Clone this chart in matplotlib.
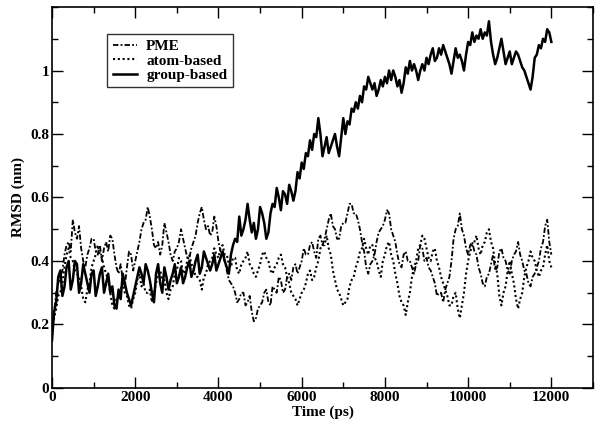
import matplotlib
matplotlib.use("Agg")
import matplotlib.pyplot as plt
from matplotlib.ticker import MultipleLocator, FixedLocator, FuncFormatter

time_ps = list(range(0, 12001, 100))
time_mid_ps = list(range(50, 12000, 100))

group_based = [
    0.15, 0.27, 0.37, 0.32, 0.40, 0.34, 0.39, 0.33, 0.36, 0.30,
    0.37, 0.32, 0.38, 0.33, 0.30, 0.26, 0.31, 0.36, 0.30, 0.26,
    0.32, 0.38, 0.33, 0.37, 0.30, 0.36, 0.33, 0.38, 0.31, 0.36,
    0.33, 0.38, 0.35, 0.40, 0.37, 0.42, 0.38, 0.41, 0.37, 0.42,
    0.39, 0.43, 0.38, 0.42, 0.47, 0.54, 0.50, 0.58, 0.49, 0.47,
    0.57, 0.52, 0.49, 0.58, 0.63, 0.56, 0.61, 0.64, 0.59, 0.68,
    0.71, 0.74, 0.78, 0.80, 0.85, 0.73, 0.79, 0.76, 0.80, 0.73,
    0.85, 0.84, 0.88, 0.90, 0.92, 0.95, 0.98, 0.94, 0.92, 0.97,
    0.98, 1.00, 1.00, 0.95, 0.93, 1.01, 1.03, 1.02, 0.97, 1.02,
    1.04, 1.05, 1.03, 1.07, 1.08, 1.04, 0.99, 1.07, 1.05, 1.00,
    1.09, 1.12, 1.11, 1.13, 1.12, 1.155, 1.05, 1.04, 1.10, 1.02,
    1.06, 1.04, 1.05, 1.01, 0.98, 0.94, 1.04, 1.08, 1.10, 1.13,
    1.09,
]

group_based_mid = [
    0.24, 0.35, 0.29, 0.38, 0.31, 0.40, 0.30, 0.39, 0.33, 0.36,
    0.29, 0.36, 0.30, 0.36, 0.32, 0.25, 0.28, 0.33, 0.28, 0.29,
    0.35, 0.36, 0.39, 0.34, 0.27, 0.39, 0.30, 0.35, 0.34, 0.39,
    0.35, 0.33, 0.38, 0.35, 0.40, 0.36, 0.43, 0.39, 0.39, 0.37,
    0.41, 0.40, 0.36, 0.45, 0.46, 0.48, 0.53, 0.53, 0.52, 0.50,
    0.55, 0.47, 0.55, 0.57, 0.60, 0.62, 0.58, 0.62, 0.62, 0.66,
    0.69, 0.73, 0.75, 0.79, 0.80, 0.76, 0.74, 0.78, 0.76, 0.79,
    0.80, 0.83, 0.87, 0.88, 0.90, 0.94, 0.96, 0.96, 0.94, 0.95,
    0.96, 0.97, 0.98, 0.97, 0.96, 0.99, 1.00, 1.00, 1.00, 1.00,
    1.02, 1.07, 1.04, 1.05, 1.06, 1.02, 1.03, 1.04, 1.03, 1.05,
    1.08, 1.09, 1.10, 1.10, 1.11, 1.09, 1.02, 1.07, 1.06, 1.04,
    1.02, 1.06, 1.03, 1.00, 0.96, 0.98, 1.05, 1.07, 1.09, 1.12,
]

pme = [
    0.18, 0.30, 0.35, 0.42, 0.46, 0.53, 0.47, 0.44, 0.38, 0.44,
    0.47, 0.42, 0.40, 0.46, 0.48, 0.42, 0.36, 0.34, 0.38, 0.42,
    0.40, 0.46, 0.52, 0.57, 0.50, 0.44, 0.42, 0.52, 0.46, 0.40,
    0.44, 0.50, 0.44, 0.41, 0.46, 0.52, 0.57, 0.50, 0.48, 0.54,
    0.46, 0.42, 0.37, 0.33, 0.30, 0.28, 0.30, 0.27, 0.24, 0.22,
    0.26, 0.30, 0.27, 0.32, 0.30, 0.34, 0.31, 0.36, 0.38, 0.36,
    0.40, 0.42, 0.45, 0.43, 0.47, 0.45, 0.50, 0.55, 0.50, 0.47,
    0.52, 0.55, 0.58, 0.55, 0.50, 0.43, 0.36, 0.40, 0.46, 0.50,
    0.53, 0.55, 0.48, 0.42, 0.38, 0.43, 0.40, 0.36, 0.40, 0.44,
    0.41, 0.37, 0.33, 0.30, 0.27, 0.33, 0.40, 0.50, 0.55, 0.48,
    0.42, 0.46, 0.42, 0.36, 0.32, 0.36, 0.42, 0.38, 0.44, 0.40,
    0.36, 0.42, 0.46, 0.40, 0.36, 0.32, 0.36, 0.40, 0.46, 0.53,
    0.42,
]

pme_mid = [
    0.24, 0.33, 0.37, 0.45, 0.43, 0.49, 0.51, 0.40, 0.42, 0.47,
    0.43, 0.45, 0.44, 0.43, 0.47, 0.38, 0.39, 0.32, 0.43, 0.37,
    0.43, 0.50, 0.53, 0.54, 0.45, 0.46, 0.45, 0.49, 0.42, 0.43,
    0.46, 0.47, 0.41, 0.44, 0.48, 0.55, 0.53, 0.51, 0.49, 0.51,
    0.43, 0.40, 0.34, 0.32, 0.27, 0.30, 0.26, 0.29, 0.21, 0.25,
    0.27, 0.31, 0.26, 0.31, 0.35, 0.30, 0.35, 0.34, 0.39, 0.38,
    0.44, 0.42, 0.46, 0.41, 0.48, 0.47, 0.53, 0.51, 0.47, 0.51,
    0.52, 0.58, 0.55, 0.53, 0.46, 0.38, 0.39, 0.42, 0.49, 0.51,
    0.56, 0.50, 0.46, 0.39, 0.42, 0.40, 0.38, 0.39, 0.45, 0.40,
    0.38, 0.35, 0.29, 0.30, 0.31, 0.35, 0.47, 0.51, 0.50, 0.44,
    0.45, 0.43, 0.38, 0.33, 0.35, 0.39, 0.37, 0.43, 0.41, 0.37,
    0.40, 0.43, 0.42, 0.37, 0.33, 0.35, 0.38, 0.44, 0.51, 0.46,
]

atom_based = [
    0.20, 0.25, 0.30, 0.38, 0.44, 0.40, 0.36, 0.32, 0.27, 0.33,
    0.40, 0.45, 0.41, 0.36, 0.30, 0.25, 0.28, 0.33, 0.29, 0.25,
    0.30, 0.36, 0.33, 0.30, 0.27, 0.33, 0.37, 0.34, 0.28, 0.32,
    0.37, 0.40, 0.37, 0.42, 0.38, 0.35, 0.31, 0.36, 0.40, 0.44,
    0.41, 0.45, 0.42, 0.38, 0.41, 0.36, 0.40, 0.43, 0.38, 0.35,
    0.39, 0.43, 0.40, 0.36, 0.39, 0.42, 0.38, 0.33, 0.29, 0.26,
    0.30, 0.33, 0.37, 0.35, 0.40, 0.45, 0.48, 0.42, 0.34, 0.30,
    0.26, 0.28, 0.34, 0.38, 0.43, 0.47, 0.42, 0.45, 0.40, 0.35,
    0.42, 0.46, 0.40, 0.33, 0.27, 0.23, 0.30, 0.38, 0.44, 0.48,
    0.44, 0.40, 0.44, 0.38, 0.33, 0.29, 0.26, 0.30, 0.22, 0.30,
    0.40, 0.45, 0.48, 0.42, 0.46, 0.50, 0.44, 0.36, 0.26, 0.32,
    0.40, 0.33, 0.25, 0.30, 0.38, 0.43, 0.40, 0.35, 0.38, 0.45,
    0.38,
]

atom_based_mid = [
    0.22, 0.29, 0.33, 0.42, 0.41, 0.37, 0.35, 0.28, 0.31, 0.38,
    0.42, 0.42, 0.38, 0.34, 0.26, 0.28, 0.31, 0.30, 0.26, 0.28,
    0.34, 0.32, 0.30, 0.31, 0.30, 0.36, 0.34, 0.30, 0.31, 0.36,
    0.41, 0.36, 0.40, 0.39, 0.35, 0.34, 0.35, 0.39, 0.41, 0.42,
    0.44, 0.42, 0.39, 0.41, 0.37, 0.39, 0.41, 0.39, 0.36, 0.37,
    0.42, 0.41, 0.37, 0.38, 0.41, 0.39, 0.35, 0.30, 0.28, 0.28,
    0.31, 0.36, 0.34, 0.38, 0.44, 0.45, 0.44, 0.37, 0.31, 0.28,
    0.27, 0.32, 0.35, 0.40, 0.44, 0.44, 0.45, 0.41, 0.37, 0.40,
    0.45, 0.42, 0.36, 0.29, 0.26, 0.27, 0.35, 0.40, 0.45, 0.47,
    0.41, 0.43, 0.40, 0.35, 0.31, 0.26, 0.29, 0.25, 0.26, 0.36,
    0.43, 0.46, 0.44, 0.45, 0.49, 0.46, 0.39, 0.29, 0.30, 0.37,
    0.36, 0.28, 0.28, 0.35, 0.40, 0.41, 0.37, 0.37, 0.42, 0.40,
]

x_label = "Time (ps)"
y_label = "RMSD (nm)"
legend_labels = ["PME", "atom-based", "group-based"]
y_tick_values = [0, 0.2, 0.4, 0.6, 0.8, 1.0]


def merge(main_vals, mid_vals):
    """Put the 100-ps readings and the in-between readings in time order."""
    ts, vs = [], []
    for i, t in enumerate(time_ps):
        ts.append(t)
        vs.append(main_vals[i])
        if i < len(time_mid_ps):
            ts.append(time_mid_ps[i])
            vs.append(mid_vals[i])
    return ts, vs


pme_t, pme_v = merge(pme, pme_mid)
atom_t, atom_v = merge(atom_based, atom_based_mid)
group_t, group_v = merge(group_based, group_based_mid)

plt.rcParams["font.family"] = ["Liberation Serif", "DejaVu Serif"]

fig = plt.figure(figsize=(6.02, 4.30), dpi=100)
ax = fig.add_axes([0.0864, 0.0977, 0.8986, 0.886])

ax.plot(pme_t, pme_v, color="black", lw=1.3, dashes=(3, 1.2, 1, 1.2),
        label=legend_labels[0])
ax.plot(atom_t, atom_v, color="black", lw=1.5, dashes=(1, 1.3),
        label=legend_labels[1])
ax.plot(group_t, group_v, color="black", lw=1.8, label=legend_labels[2])

ax.set_xlim(0, 13000)
ax.set_ylim(0, 1.2)
ax.xaxis.set_major_locator(MultipleLocator(2000))
ax.xaxis.set_minor_locator(MultipleLocator(1000))
ax.yaxis.set_major_locator(FixedLocator(y_tick_values))
ax.yaxis.set_minor_locator(MultipleLocator(0.1))
ax.yaxis.set_major_formatter(FuncFormatter(lambda v, p: f"{v:g}"))
ax.tick_params(which="both", direction="in", top=True, right=True,
               labelsize=11, width=1, pad=2)
ax.tick_params(which="major", length=8)
ax.tick_params(which="minor", length=4)
for lab in ax.get_xticklabels() + ax.get_yticklabels():
    lab.set_fontweight("bold")
for s in ax.spines.values():
    s.set_linewidth(1.2)

ax.set_xlabel(x_label, fontsize=11, fontweight="bold", labelpad=1)
ax.set_ylabel(y_label, fontsize=11, fontweight="bold", labelpad=4)

leg = ax.legend(loc="upper left", bbox_to_anchor=(0.102, 0.929),
                borderaxespad=0, frameon=True, fancybox=False,
                edgecolor="black", prop={"weight": "bold", "size": 11},
                handlelength=1.6, borderpad=0.35, labelspacing=0.05,
                handletextpad=0.6)
leg.get_frame().set_linewidth(1.0)

fig.savefig("out.png", dpi=100)
